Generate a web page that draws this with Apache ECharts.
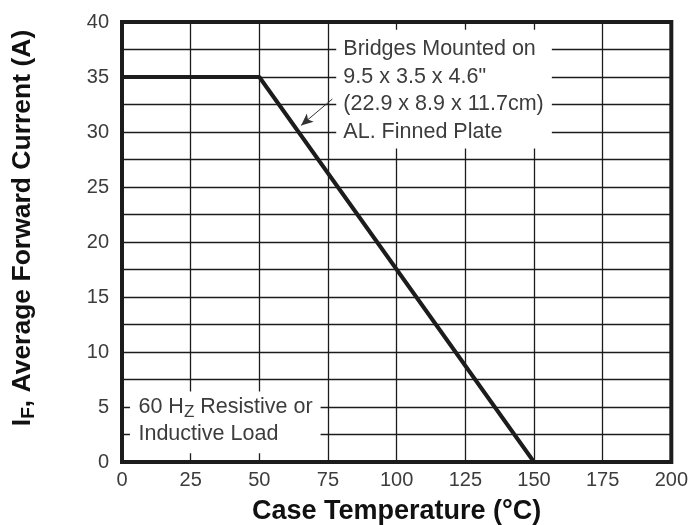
<!DOCTYPE html>
<html><head><meta charset="utf-8">
<script src="https://cdn.jsdelivr.net/npm/echarts@6/dist/echarts.min.js"></script>
<style>html,body{margin:0;padding:0;background:#fff}#c{width:691px;height:525px}</style>
</head><body><div id="c"></div>
<script>
// ---- data ----
const temperature = [0, 50, 150];
const current = [35, 35, 0];
const xTickLabels = [0, 25, 50, 75, 100, 125, 150, 175, 200];
const yTickLabels = [0, 5, 10, 15, 20, 25, 30, 35, 40];
const noteMounted = ['Bridges Mounted on', '9.5 x 3.5 x 4.6"', '(22.9 x 8.9 x 11.7cm)', 'AL. Finned Plate'];
const noteMountedY = [37.5, 35, 32.5, 30];
const noteLoadY = [5, 2.5];
const xTitle = 'Case Temperature (\u00B0C)';

const FONT = "'Liberation Sans', Arial, Helvetica, sans-serif";
const INK = '#1c1c1c';
const TXT = '#3c3c3c';

const chart = echarts.init(document.getElementById('c'), null, {renderer: 'canvas'});
const pts = temperature.map((t, i) => [t, current[i]]);

chart.setOption({
  animation: false,
  backgroundColor: '#fff',
  grid: {left: 122, right: 18, top: 22, bottom: 63, show: true, borderColor: INK, borderWidth: 4, backgroundColor: 'transparent', z: 3},
  xAxis: {
    type: 'value', min: 0, max: 200, interval: 25,
    axisLine: {show: false}, axisTick: {show: false},
    axisLabel: {color: TXT, fontSize: 20, fontFamily: FONT, margin: 8,
      formatter: v => xTickLabels.includes(v) ? String(v) : ''},
    splitLine: {show: true, lineStyle: {color: INK, width: 1.3}}
  },
  yAxis: {
    type: 'value', min: 0, max: 40, interval: 2.5,
    axisLine: {show: false}, axisTick: {show: false},
    axisLabel: {color: TXT, fontSize: 20, fontFamily: FONT, margin: 13,
      formatter: v => yTickLabels.includes(v) ? String(v) : ''},
    splitLine: {show: true, lineStyle: {color: INK, width: 1.3}}
  },
  series: [{
    type: 'line', data: pts, showSymbol: false, z: 5,
    lineStyle: {color: INK, width: 4}, itemStyle: {color: INK},
    markLine: {
      silent: true, symbol: ['none', 'arrow'], symbolSize: [8, 12],
      label: {show: false},
      lineStyle: {color: '#333', width: 1, type: 'solid'},
      data: [[{coord: [76.6, 33.0]}, {coord: [65.2, 30.6]}]]
    }
  }]
});

function px(x, y) { return chart.convertToPixel({gridIndex: 0}, [x, y]); }
const g = [];
// white annotation boxes
const a1 = px(78, 39.3), b1 = px(156.5, 28.5);
g.push({type: 'rect', z: 2, shape: {x: a1[0], y: a1[1], width: b1[0] - a1[0], height: b1[1] - a1[1]}, style: {fill: '#fff'}});
const a2 = px(2.9, 6.4), b2 = px(72.3, 0.8);
g.push({type: 'rect', z: 2, shape: {x: a2[0], y: a2[1], width: b2[0] - a2[0], height: b2[1] - a2[1]}, style: {fill: '#fff'}});
noteMounted.forEach((t, i) => {
  const p = px(80.6, noteMountedY[i]);
  g.push({type: 'text', z: 4, x: p[0], y: p[1], style: {text: t, fill: TXT, font: '21.5px ' + FONT, textAlign: 'left', textVerticalAlign: 'middle'}});
});
const l1 = px(6.0, noteLoadY[0]), l2 = px(6.0, noteLoadY[1]);
g.push({type: 'text', z: 4, x: l1[0], y: l1[1], style: {
  text: '{n|60 H}{s|Z}{n| Resistive or}', textAlign: 'left', textVerticalAlign: 'middle',
  rich: {n: {fontSize: 21.5, fontFamily: FONT, fill: TXT, color: TXT, lineHeight: 23},
         s: {fontSize: 17, fontFamily: FONT, fill: TXT, color: TXT, lineHeight: 17, padding: [10, 0, 0, 0]}}
}});
g.push({type: 'text', z: 4, x: l2[0], y: l2[1], style: {text: 'Inductive Load', fill: TXT, font: '21.5px ' + FONT, textAlign: 'left', textVerticalAlign: 'middle'}});
// axis titles
const xc = px(100, 0);
g.push({type: 'text', z: 4, x: xc[0], y: 512, style: {text: xTitle, fill: '#111', font: 'bold 27px ' + FONT, textAlign: 'center', textVerticalAlign: 'middle'}});
g.push({type: 'text', z: 4, x: 23, y: 228, rotation: Math.PI / 2, style: {
  text: '{b|I}{s|F}{b|, Average Forward Current (A)}', textAlign: 'center', textVerticalAlign: 'middle',
  rich: {b: {fontSize: 26.5, fontWeight: 'bold', fontFamily: FONT, fill: '#111', color: '#111', lineHeight: 29},
         s: {fontSize: 19, fontWeight: 'bold', fontFamily: FONT, fill: '#111', color: '#111', lineHeight: 19, padding: [12, 0, 0, 0]}}
}});
chart.setOption({graphic: g});
</script>
</body></html>
